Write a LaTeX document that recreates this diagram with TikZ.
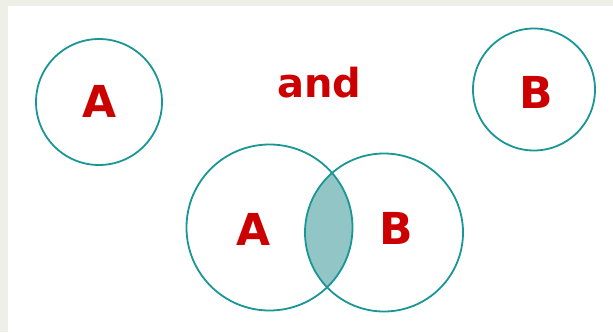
\documentclass[tikz,border=0pt]{standalone}
\usepackage{fontspec}
\setmainfont{DejaVu Sans}
\usetikzlibrary{positioning}
\definecolor{ringteal}{RGB}{26,150,150}
\definecolor{lensteal}{RGB}{146,198,198}
\definecolor{lblred}{RGB}{204,0,0}
\definecolor{slidebg}{RGB}{238,240,232}

\begin{document}
\begin{tikzpicture}[x=1pt,y=-1pt,
    ring/.style={draw=ringteal, line width=1.8pt},
    setlbl/.style={text=lblred, inner sep=0pt,
      font=\fontsize{44}{44}\selectfont\bfseries}]
  \useasboundingbox (0,0) rectangle (613,332);
  \fill[slidebg] (0,0) rectangle (613,332);
  \fill[white] (8,6) rectangle (613,332);

  % the two sets apart
  \draw[ring] (99,102) circle[radius=63pt];
  \draw[ring] (534,89.5) circle[radius=61pt];
  \node[setlbl] (topA) at (99.5,101) {A};
  \node[setlbl] (topB) at (536,92) {B};
  \node[setlbl, font=\fontsize{40}{40}\selectfont\bfseries] (andword) at (319.5,83) {and};

  % overlap
  \begin{scope}
    \clip (269.5,227.5) circle[radius=83pt];
    \fill[lensteal] (384,232.5) circle[radius=79pt];
  \end{scope}
  \draw[ring] (269.5,227.5) circle[radius=83pt];
  \draw[ring] (384,232.5) circle[radius=79pt];
  \node[setlbl] (botA) at (254,229) {A};
  \node[setlbl] (botB) at (396,228) {B};
\end{tikzpicture}
\end{document}
